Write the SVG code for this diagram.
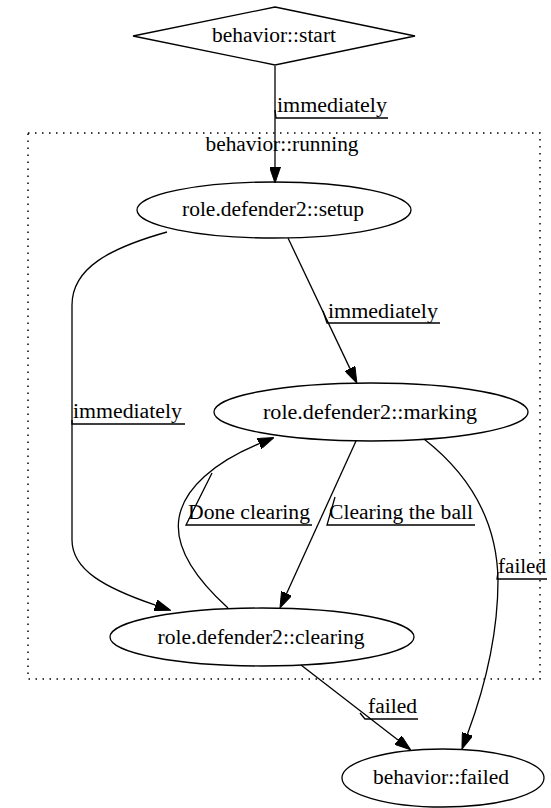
<svg xmlns="http://www.w3.org/2000/svg" width="551" height="808" viewBox="0 0 551 808">
<style>
  .n { fill: none; stroke: #000; stroke-width: 1.3; }
  .e { fill: none; stroke: #000; stroke-width: 1.3; }
  .d { fill: none; stroke: #000; stroke-width: 1.3; }
  .t { font-family: "Liberation Serif", "Times New Roman", serif; font-size: 20.5px; fill: #000; }
  .c { fill: none; stroke: #000; stroke-width: 1.5; stroke-dasharray: 1.5 5.5; }
</style>
<defs>
  <marker id="ah" viewBox="0 0 16 11" markerWidth="16" markerHeight="11" markerUnits="userSpaceOnUse" refX="0" refY="5.5" orient="auto">
    <path d="M0,0 L16,5.5 L0,11 z" fill="#000" stroke="#000" stroke-width="1"/>
  </marker>
</defs>
<rect width="551" height="808" fill="#fff"/>

<g id="cluster_running">
  <rect class="c" x="28" y="133" width="512" height="546"/>
  <text class="t" x="282" y="151" text-anchor="middle" textLength="153" lengthAdjust="spacingAndGlyphs">behavior::running</text>
</g>

<g id="connectors">
  <g id="e_start_setup">
    <path class="e" d="M275,66 L275,167" marker-end="url(#ah)"/>
    <text class="t" x="277" y="112" textLength="110" lengthAdjust="spacingAndGlyphs">immediately</text>
    <path class="d" d="M275,110 L276,118 L388,118"/>
  </g>
  <g id="e_setup_marking">
    <path class="e" d="M288,238 L350,368.6" marker-end="url(#ah)"/>
    <text class="t" x="328" y="318" textLength="110" lengthAdjust="spacingAndGlyphs">immediately</text>
    <path class="d" d="M323,311 L327,323 L440,323"/>
  </g>
  <g id="e_setup_clearing">
    <path class="e" d="M167,232 C110,248 72,268 72,305 L72,540 C72,570 105,588 155.5,605.2" marker-end="url(#ah)"/>
    <text class="t" x="73" y="418" textLength="109" lengthAdjust="spacingAndGlyphs">immediately</text>
    <path class="d" d="M72,420 L72,424 L185,424"/>
  </g>
  <g id="e_marking_clearing">
    <path class="e" d="M356,441 L286.6,593.4" marker-end="url(#ah)"/>
    <text class="t" x="329" y="519" textLength="144" lengthAdjust="spacingAndGlyphs">Clearing the ball</text>
    <path class="d" d="M335,497 L327,525 L475,525"/>
  </g>
  <g id="e_clearing_marking">
    <path class="e" d="M228,608 C195,578 174,548 179,518 C184,488 215,462 259.2,443.7" marker-end="url(#ah)"/>
    <text class="t" x="188" y="519" textLength="122" lengthAdjust="spacingAndGlyphs">Done clearing</text>
    <path class="d" d="M212,473 L186,525 L312,525"/>
  </g>
  <g id="e_marking_failed">
    <path class="e" d="M424,439 C470,475 497,520 498,580 C498,640 482,695 467.5,734" marker-end="url(#ah)"/>
    <text class="t" x="498" y="573" textLength="48" lengthAdjust="spacingAndGlyphs">failed</text>
    <path class="d" d="M498,572 L497,579 L547,579"/>
  </g>
  <g id="e_clearing_failed">
    <path class="e" d="M301,665 L398,740" marker-end="url(#ah)"/>
    <text class="t" x="368" y="713" textLength="49" lengthAdjust="spacingAndGlyphs">failed</text>
    <path class="d" d="M360,713 L365,719 L418,719"/>
  </g>
</g>

<g id="start">
  <polygon class="n" points="275,7 415,36 275,65 133,36"/>
  <text class="t" x="274" y="42" text-anchor="middle" textLength="124" lengthAdjust="spacingAndGlyphs">behavior::start</text>
</g>
<g id="setup">
  <ellipse class="n" cx="274" cy="210" rx="137" ry="28"/>
  <text class="t" x="273" y="216" text-anchor="middle" textLength="182" lengthAdjust="spacingAndGlyphs">role.defender2::setup</text>
</g>
<g id="marking">
  <ellipse class="n" cx="371" cy="412" rx="157" ry="29"/>
  <text class="t" x="370" y="419" text-anchor="middle" textLength="214" lengthAdjust="spacingAndGlyphs">role.defender2::marking</text>
</g>
<g id="clearing">
  <ellipse class="n" cx="262" cy="637" rx="152" ry="29"/>
  <text class="t" x="261" y="644" text-anchor="middle" textLength="207" lengthAdjust="spacingAndGlyphs">role.defender2::clearing</text>
</g>
<g id="failed">
  <ellipse class="n" cx="443" cy="778" rx="101" ry="29"/>
  <text class="t" x="441" y="784" text-anchor="middle" textLength="136" lengthAdjust="spacingAndGlyphs">behavior::failed</text>
</g>
</svg>
